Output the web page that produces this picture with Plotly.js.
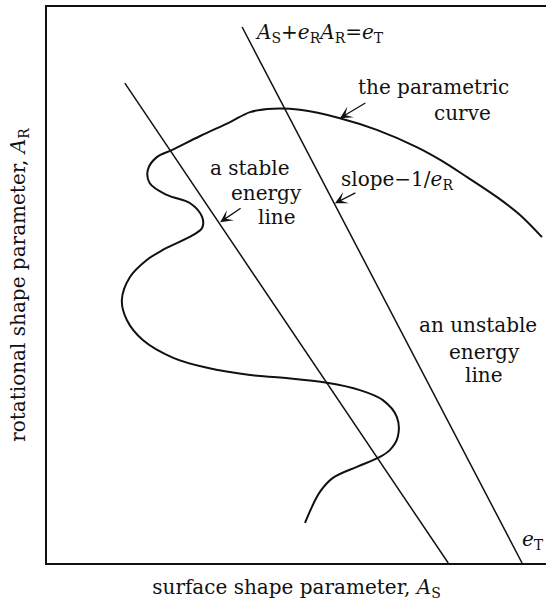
<!DOCTYPE html>
<html>
<head>
<meta charset="utf-8">
<script src="https://cdn.plot.ly/plotly-3.0.1.min.js"></script>
<style>
  html, body { margin: 0; padding: 0; background: #fff; }
  #chart { width: 546px; height: 603px; }
</style>
</head>
<body>
<div id="chart"></div>
<script>
// Parametric curve in the (A_S, A_R) shape-parameter plane
const curveX = [99.2, 94.8, 90.2, 84.2, 78.8, 74.1, 66.1, 58.7, 50.7, 45.3, 40.7, 36.7, 30.7, 25.1, 22.0, 20.2, 20.6, 24.0, 28.7, 31.1, 31.1, 29.3, 23.2, 20.0, 16.6, 15.0, 16.0, 19.2, 25.3, 32.1, 40.7, 47.3, 56.1, 62.7, 67.3, 70.1, 70.3, 68.7, 66.3, 62.1, 57.3, 54.7, 53.1, 51.7];
const curveY = [58.6, 62.6, 65.8, 69.4, 72.5, 74.8, 77.9, 80.0, 81.5, 81.7, 81.1, 79.3, 76.8, 74.3, 73.0, 70.7, 68.3, 66.2, 64.7, 62.2, 60.3, 59.0, 56.3, 54.5, 51.4, 47.3, 43.7, 40.1, 36.9, 35.1, 33.8, 33.3, 32.4, 31.1, 29.3, 26.3, 22.7, 20.3, 18.9, 17.3, 15.3, 12.8, 10.1, 7.2];

// Energy lines A_S + e_R A_R = e_T
const stableX = [15.6, 80.4];
const stableY = [86.3, 0];
const unstableX = [39.1, 95.2];
const unstableY = [96.4, 0];

// Arrow heads and tails for the callouts
const arrowHeadX = [58.7, 34.7, 57.7];
const arrowHeadY = [80.0, 61.3, 64.7];
const arrowTailX = [64.1, 39.1, 62.1];
const arrowTailY = [82.9, 64.0, 66.7];

// Text labels
const labelText = [
  '<i>A</i><sub>S</sub>+<i>e</i><sub>R</sub><i>A</i><sub>R</sub>=<i>e</i><sub>T</sub>',
  'the parametric', 'curve',
  'a stable', 'energy', 'line',
  'slope\u22121/<i>e</i><sub>R</sub>',
  'an unstable', 'energy', 'line',
  '<i>e</i><sub>T</sub>'
];
const labelX = [41.3, 77.4, 83.2, 40.7, 43.9, 46.1, 58.5, 86.4, 87.6, 87.6, 99.9];
const labelY = [95.3, 85.6, 80.9, 71.0, 66.5, 62.2, 68.9, 42.8, 37.9, 33.8, 4.1];
const labelAnchor = ['left', 'center', 'center', 'center', 'center', 'center', 'left', 'center', 'center', 'center', 'right'];

const FONT = 'DejaVu Serif, serif';
const SIZE = 20;

const traces = [
  { x: curveX, y: curveY, mode: 'lines', line: { color: '#111', width: 2, shape: 'spline', smoothing: 1 }, hoverinfo: 'skip' },
  { x: stableX, y: stableY, mode: 'lines', line: { color: '#111', width: 1.5 }, hoverinfo: 'skip' },
  { x: unstableX, y: unstableY, mode: 'lines', line: { color: '#111', width: 1.5 }, hoverinfo: 'skip' }
];

const annotations = [];
labelText.forEach((t, i) => {
  annotations.push({
    x: labelX[i], y: labelY[i], xref: 'x', yref: 'y',
    text: t, showarrow: false, xanchor: labelAnchor[i], yanchor: 'middle',
    font: { family: FONT, size: SIZE, color: '#111' }
  });
});
arrowHeadX.forEach((hx, i) => {
  annotations.push({
    x: hx, y: arrowHeadY[i], xref: 'x', yref: 'y',
    ax: arrowTailX[i], ay: arrowTailY[i], axref: 'x', ayref: 'y',
    text: '', showarrow: true, arrowhead: 3, arrowsize: 1.6, arrowwidth: 1.3, arrowcolor: '#111'
  });
});

const layout = {
  width: 546, height: 603,
  margin: { l: 47, r: 0, t: 7, b: 40 },
  paper_bgcolor: '#fff', plot_bgcolor: '#fff',
  showlegend: false,
  font: { family: FONT, color: '#111' },
  xaxis: {
    range: [0, 100], showgrid: false, zeroline: false, showticklabels: false, ticks: '',
    showline: true, linecolor: '#111', linewidth: 2, mirror: true,
    title: { text: 'surface shape parameter, <i>A</i><sub>S</sub>', font: { family: FONT, size: SIZE, color: '#111' }, standoff: 16 }
  },
  yaxis: {
    range: [0, 100], showgrid: false, zeroline: false, showticklabels: false, ticks: '',
    showline: true, linecolor: '#111', linewidth: 2,
    title: { text: 'rotational shape parameter, <i>A</i><sub>R</sub>', font: { family: FONT, size: SIZE, color: '#111' }, standoff: 14 }
  },
  annotations: annotations
};

Plotly.newPlot('chart', traces, layout, { staticPlot: true, displayModeBar: false });
</script>
</body>
</html>
